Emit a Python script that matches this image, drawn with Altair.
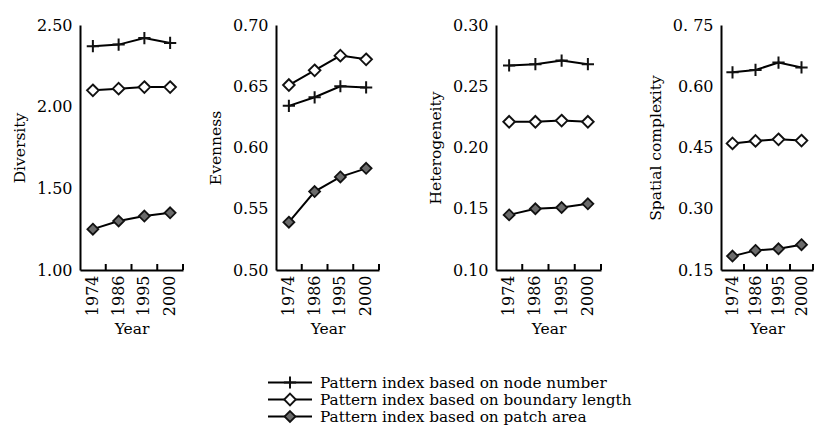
import altair as alt
import pandas as pd

years = ["1974", "1986", "1995", "2000"]
series = [
    "Pattern index based on node number",
    "Pattern index based on boundary length",
    "Pattern index based on patch area",
]
panel_titles = ["Diversity", "Evenness", "Heterogeneity", "Spatial complexity"]

diversity_node = [2.37, 2.38, 2.42, 2.39]
diversity_boundary = [2.10, 2.11, 2.12, 2.12]
diversity_area = [1.25, 1.30, 1.33, 1.35]

evenness_node = [0.634, 0.641, 0.650, 0.649]
evenness_boundary = [0.651, 0.663, 0.675, 0.672]
evenness_area = [0.539, 0.564, 0.576, 0.583]

heterogeneity_node = [0.267, 0.268, 0.271, 0.268]
heterogeneity_boundary = [0.221, 0.221, 0.222, 0.221]
heterogeneity_area = [0.145, 0.150, 0.151, 0.154]

complexity_node = [0.634, 0.640, 0.658, 0.646]
complexity_boundary = [0.460, 0.466, 0.470, 0.467]
complexity_area = [0.184, 0.198, 0.202, 0.212]

y_domains = [[1.0, 2.5], [0.5, 0.7], [0.1, 0.3], [0.15, 0.75]]
y_ticks = [
    [1.0, 1.5, 2.0, 2.5],
    [0.5, 0.55, 0.6, 0.65, 0.7],
    [0.1, 0.15, 0.2, 0.25, 0.3],
    [0.15, 0.3, 0.45, 0.6, 0.75],
]
y_tick_labels = [
    ["1.00", "1.50", "2.00", "2.50"],
    ["0.50", "0.55", "0.60", "0.65", "0.70"],
    ["0.10", "0.15", "0.20", "0.25", "0.30"],
    ["0.15", "0.30", "0.45", "0.60", "0. 75"],
]

panel_values = [
    [diversity_node, diversity_boundary, diversity_area],
    [evenness_node, evenness_boundary, evenness_area],
    [heterogeneity_node, heterogeneity_boundary, heterogeneity_area],
    [complexity_node, complexity_boundary, complexity_area],
]

rows = []
for p, name in enumerate(panel_titles):
    for s, sname in enumerate(series):
        for i, yr in enumerate(years):
            rows.append({"panel": name, "year": yr, "series": sname,
                         "value": panel_values[p][s][i]})
df = pd.DataFrame(rows)

FONT = "DejaVu Serif"
H = 245
axis_widths = [103, 103, 105, 92]
view_widths = [103, 128, 128, 92]

PLUS = "M-1,0L1,0M0,-1L0,1"
DIAM = "M0,-1L1,0L0,1L-1,0Z"
shape_scale = alt.Scale(domain=series, range=[PLUS, DIAM, DIAM])
fill_scale = alt.Scale(domain=series, range=["transparent", "white", "#6b6b6b"])
size_scale = alt.Scale(domain=series, range=[150, 120, 130])
sw_scale = alt.Scale(domain=series, range=[2, 1.8, 1.2])


def label_expr(vals, labs):
    parts = []
    for v, l in zip(vals, labs):
        parts.append(f"abs(datum.value - {v}) < 1e-6 ? '{l}' : ")
    return "".join(parts) + "''"


panels = []
for p, name in enumerate(panel_titles):
    base = alt.Chart(df).transform_filter(alt.datum.panel == name)
    xenc = alt.X(
        "year:N", sort=years, bandPosition=0.5,
        scale=alt.Scale(type="band", domain=years, paddingInner=0,
                        paddingOuter=0, range=[0, axis_widths[p]]),
        axis=alt.Axis(title="Year", labelAngle=-90, labelPadding=5,
                      ticks=False, domainWidth=2, domainColor="black",
                      labelFont=FONT, labelFontSize=16, labelColor="black",
                      titleFont=FONT, titleFontSize=15.5, titleFontWeight="normal",
                      titleColor="black", titlePadding=6),
    )
    yenc = alt.Y(
        "value:Q",
        scale=alt.Scale(domain=y_domains[p], nice=False, zero=False),
        axis=alt.Axis(title=name, values=y_ticks[p],
                      labelExpr=label_expr(y_ticks[p], y_tick_labels[p]),
                      ticks=False, labelPadding=8, grid=False,
                      domainWidth=2, domainColor="black",
                      labelFont=FONT, labelFontSize=16, labelColor="black",
                      titleFont=FONT, titleFontSize=15.5, titleFontWeight="normal",
                      titleColor="black", titlePadding=9),
    )
    lines = base.mark_line(color="black", strokeWidth=2).encode(
        x=xenc, y=yenc, detail="series:N"
    )
    points = base.mark_point(filled=True, stroke="#111111", opacity=1).encode(
        x=alt.X("year:N", sort=years, bandPosition=0.5),
        y="value:Q",
        shape=alt.Shape("series:N", scale=shape_scale, legend=None),
        fill=alt.Fill("series:N", scale=fill_scale, legend=None),
        size=alt.Size("series:N", scale=size_scale, legend=None),
        strokeWidth=alt.StrokeWidth("series:N", scale=sw_scale, legend=None),
    )
    ticks = alt.Chart(pd.DataFrame({"year": years})).mark_rule(
        color="black", strokeWidth=2
    ).encode(
        x=alt.X("year:N", sort=years, bandPosition=1),
        y=alt.value(H - 6),
        y2=alt.value(H),
    )
    panels.append(
        alt.layer(lines, points, ticks).properties(width=view_widths[p], height=H)
    )

row = alt.hconcat(*panels, spacing=24)

leg_df = pd.DataFrame({"series": series})
ly = alt.Y("series:N", sort=series, axis=None,
           scale=alt.Scale(domain=series, paddingInner=0, paddingOuter=0))
leg_line = alt.Chart(leg_df).mark_rule(color="black", strokeWidth=2).encode(
    y=ly, x=alt.value(188), x2=alt.value(232)
)
leg_pt = alt.Chart(leg_df).mark_point(filled=True, stroke="#111111", opacity=1).encode(
    y=ly, x=alt.value(210),
    shape=alt.Shape("series:N", scale=shape_scale, legend=None),
    fill=alt.Fill("series:N", scale=fill_scale, legend=None),
    size=alt.Size("series:N", scale=alt.Scale(domain=series, range=[150, 90, 90]), legend=None),
    strokeWidth=alt.StrokeWidth("series:N", scale=sw_scale, legend=None),
)
leg_txt = alt.Chart(leg_df).mark_text(
    align="left", baseline="middle", font=FONT, fontSize=15.3, color="black"
).encode(y=ly, x=alt.value(240), text="series:N")
legend = alt.layer(leg_line, leg_pt, leg_txt).properties(width=560, height=51)

chart = alt.vconcat(row, legend, spacing=34).properties(
    padding={"left": 4, "top": 9, "right": 0, "bottom": 0}
).configure_view(stroke=None).resolve_scale(shape="shared")

chart.save("out.html", embed_options={"renderer": "svg", "actions": False})
